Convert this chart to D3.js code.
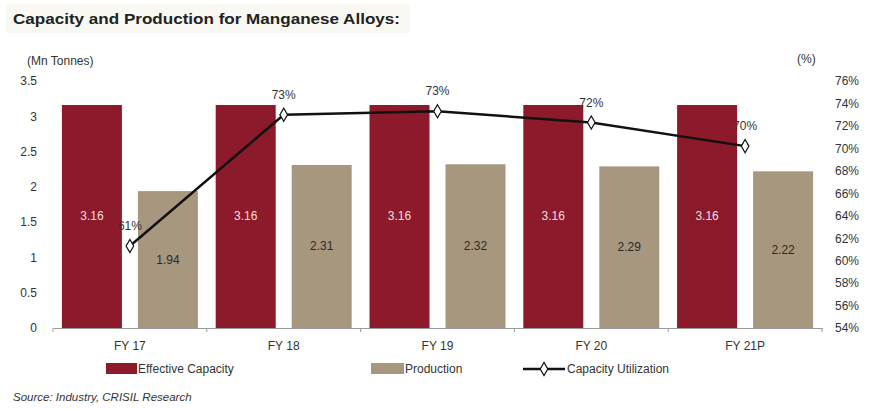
<!DOCTYPE html>
<html>
<head>
<meta charset="utf-8">
<script src="https://cdn.jsdelivr.net/npm/d3@7"></script>
<style>
  body { margin: 0; background: #fff; }
  svg { font-family: "Liberation Sans", Arial, sans-serif; }
</style>
</head>
<body>
<div id="chart"></div>
<script>
// data
const years = ["FY 17", "FY 18", "FY 19", "FY 20", "FY 21P"];
const capacity = [3.16, 3.16, 3.16, 3.16, 3.16];
const production = [1.94, 2.31, 2.32, 2.29, 2.22];
const utilization = [61.3, 73.0, 73.3, 72.3, 70.2];
const utilLabels = ["61%", "73%", "73%", "72%", "70%"];
const leftTicks = [0, 0.5, 1, 1.5, 2, 2.5, 3, 3.5];
const rightTicks = [54, 56, 58, 60, 62, 64, 66, 68, 70, 72, 74, 76];

(function () {
const W = 870, H = 409;
const CAP = "#8c1a2a", PROD = "#a8977f";

const svg = d3.select("#chart").append("svg").attr("width", W).attr("height", H);

// title
svg.append("rect").attr("x", 6).attr("y", 4).attr("width", 404).attr("height", 29).attr("fill", "#f9f8f3");
svg.append("text").attr("x", 13).attr("y", 24)
  .attr("font-size", 15).attr("font-weight", "bold").attr("fill", "#222")
  .attr("textLength", 387).attr("lengthAdjust", "spacingAndGlyphs")
  .text("Capacity and Production for Manganese Alloys:");

const plotL = 53, plotR = 822, plotT = 81, plotB = 328;

const x = d3.scaleBand().domain(years).range([plotL, plotR]).paddingInner(0).paddingOuter(0);
const y = d3.scaleLinear().domain([0, 3.5]).range([plotB, plotT]);
const y2 = d3.scaleLinear().domain([54, 76]).range([plotB, plotT]);

const bw = x.bandwidth();
const barW = 60, gap = 16, offset = (bw - (2 * barW + gap)) / 2;

// bars
const g = svg.append("g");
g.selectAll(".cap").data(years).join("rect")
  .attr("x", d => x(d) + offset)
  .attr("y", (d, i) => y(capacity[i]))
  .attr("width", barW)
  .attr("height", (d, i) => plotB - y(capacity[i]))
  .attr("fill", CAP);
g.selectAll(".prod").data(years).join("rect")
  .attr("x", d => x(d) + offset + barW + gap)
  .attr("y", (d, i) => y(production[i]))
  .attr("width", barW)
  .attr("height", (d, i) => plotB - y(production[i]))
  .attr("fill", PROD);

// bar labels
g.selectAll(".capl").data(years).join("text")
  .attr("x", d => x(d) + offset + barW / 2)
  .attr("y", (d, i) => y(capacity[i] / 2) + 4)
  .attr("text-anchor", "middle").attr("font-size", 12).attr("fill", "#f4dede")
  .text((d, i) => capacity[i].toFixed(2));
g.selectAll(".prodl").data(years).join("text")
  .attr("x", d => x(d) + offset + barW * 1.5 + gap)
  .attr("y", (d, i) => y(production[i] / 2) + 4)
  .attr("text-anchor", "middle").attr("font-size", 12).attr("fill", "#2a2a2a")
  .text((d, i) => production[i].toFixed(2));

// x axis
const xAxis = svg.append("g").attr("transform", `translate(0,${plotB})`)
  .call(d3.axisBottom(x).tickSize(0).tickPadding(13));
xAxis.select(".domain").attr("stroke", "#999");
xAxis.selectAll("text").attr("font-size", 12).attr("fill", "#333")
  .attr("font-family", "Liberation Sans, Arial, sans-serif");
svg.append("g").selectAll("line").data(d3.range(years.length + 1)).join("line")
  .attr("x1", i => plotL + i * bw).attr("x2", i => plotL + i * bw)
  .attr("y1", plotB).attr("y2", plotB + 4).attr("stroke", "#999");

// left axis
const yAxis = svg.append("g").attr("transform", `translate(40,0)`)
  .call(d3.axisLeft(y).tickValues(leftTicks).tickSize(0).tickPadding(3).tickFormat(d3.format("")));
yAxis.select(".domain").remove();
yAxis.selectAll("text").attr("font-size", 12).attr("fill", "#333")
  .attr("font-family", "Liberation Sans, Arial, sans-serif");

// right axis
const y2Axis = svg.append("g").attr("transform", `translate(832,0)`)
  .call(d3.axisRight(y2).tickValues(rightTicks).tickSize(0).tickPadding(3).tickFormat(d => d + "%"));
y2Axis.select(".domain").remove();
y2Axis.selectAll("text").attr("font-size", 12).attr("fill", "#333")
  .attr("font-family", "Liberation Sans, Arial, sans-serif");

// axis titles
svg.append("text").attr("x", 27).attr("y", 65).attr("font-size", 12).attr("fill", "#333").text("(Mn Tonnes)");
svg.append("text").attr("x", 797).attr("y", 63).attr("font-size", 12).attr("fill", "#333").text("(%)");

// line
const cx = d => x(d) + bw / 2;
const line = d3.line().x(d => cx(d)).y((d, i) => y2(utilization[i]));
svg.append("path").datum(years).attr("d", line)
  .attr("fill", "none").attr("stroke", "#111").attr("stroke-width", 2.5);
const diamond = d3.symbol().type(d3.symbolDiamond).size(50);
svg.selectAll(".pt").data(years).join("path")
  .attr("transform", (d, i) => `translate(${cx(d)},${y2(utilization[i])})`)
  .attr("d", diamond).attr("fill", "#fff").attr("stroke", "#111").attr("stroke-width", 1.2);
svg.selectAll(".ptl").data(years).join("text")
  .attr("x", d => cx(d))
  .attr("y", (d, i) => y2(utilization[i]) - 16)
  .attr("text-anchor", "middle").attr("font-size", 12).attr("fill", "#333")
  .text((d, i) => utilLabels[i]);

// legend
const lg = svg.append("g").attr("transform", "translate(0,369)");
lg.append("rect").attr("x", 106).attr("y", -6).attr("width", 31).attr("height", 11).attr("fill", CAP);
lg.append("text").attr("x", 138).attr("y", 4).attr("font-size", 12).attr("fill", "#333").text("Effective Capacity");
lg.append("rect").attr("x", 371).attr("y", -6).attr("width", 33).attr("height", 11).attr("fill", PROD);
lg.append("text").attr("x", 405).attr("y", 4).attr("font-size", 12).attr("fill", "#333").text("Production");
lg.append("line").attr("x1", 523).attr("x2", 565).attr("y1", 0).attr("y2", 0).attr("stroke", "#111").attr("stroke-width", 2.5);
lg.append("path").attr("transform", "translate(544,0)").attr("d", diamond)
  .attr("fill", "#fff").attr("stroke", "#111").attr("stroke-width", 1.2);
lg.append("text").attr("x", 567).attr("y", 4).attr("font-size", 12).attr("fill", "#333").text("Capacity Utilization");

// source
svg.append("text").attr("x", 13).attr("y", 401).attr("font-size", 11.5).attr("font-style", "italic")
  .attr("fill", "#333").text("Source: Industry, CRISIL Research");
})();
</script>
</body>
</html>
